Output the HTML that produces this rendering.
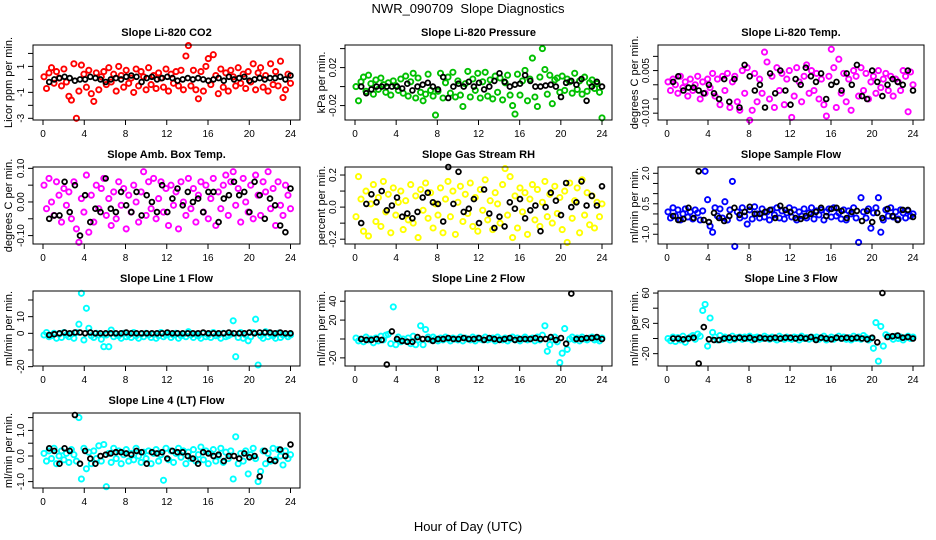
<!DOCTYPE html>
<html><head><meta charset="utf-8"><style>
body{margin:0;background:#fff;}
svg{display:block;font-family:"Liberation Sans",Arial,sans-serif;}
</style></head><body>
<svg id="chart" width="936" height="540" viewBox="0 0 936 540">
<rect x="0" y="0" width="936" height="540" fill="#fff"/>
<text x="468" y="13" font-size="13" text-anchor="middle">NWR_090709&#160; Slope Diagnostics</text>
<text x="468" y="531" font-size="13" text-anchor="middle">Hour of Day (UTC)</text>
</svg>
<script>
var xTicks = [0,4,8,12,16,20,24];
var co2Vals = [0.2,-0.7,0.5,0.9,-0.3,0.6,0.1,-0.5,0.8,-0.2,-1.3,-1.6,1.2,-3.0,-0.9,1.1,0.4,-0.6,0.7,-1.1,-1.7,0.5,-0.8,0.2,0.6,-0.4,0.9,-0.2,0.4,-0.9,1.0,0.3,-0.6,0.7,-0.3,0.1,-1.0,0.8,-0.5,0.6,0.2,-0.8,0.9,-0.4,0.3,-0.7,0.5,0.1,-0.6,0.8,-0.9,0.4,-0.3,0.6,-0.5,0.7,-0.8,1.8,2.6,-0.5,0.7,-0.8,-1.5,0.6,-0.9,1.0,1.6,-0.4,1.9,0.3,-1.1,0.8,-0.6,0.5,-0.9,0.7,0.2,-0.5,0.9,-0.3,0.4,-0.7,0.6,-0.2,1.2,-0.8,0.5,0.9,-0.6,0.3,-0.9,1.2,-0.4,0.6,-0.5,1.4,-1.4,-0.8,0.4,-0.3];
var co2Ref = [-0.2,0.0,0.1,0.2,0.1,-0.1,0.0,0.0,0.2,0.1,0.0,-0.2,0.0,0.1,0.0,0.2,0.3,0.2,-0.2,0.1,0.2,0.0,0.1,0.2,0.1,-0.1,0.0,0.1,0.0,0.1,0.0,-0.1,0.0,0.1,-0.1,0.2,0.0,0.1,0.2,-0.1,0.0,0.1,0.0,0.1,0.1,0.2,0.0,0.3];
var presVals = [0.0,-0.015,0.005,0.01,-0.005,0.012,0.003,-0.008,0.007,-0.003,0.009,0.002,-0.006,0.004,-0.009,0.006,0.001,-0.004,0.008,-0.007,0.011,-0.01,0.005,0.014,-0.012,0.009,-0.006,-0.015,-0.008,0.013,-0.004,-0.01,-0.03,-0.005,0.014,-0.012,0.004,0.01,-0.007,0.015,-0.011,0.006,-0.009,-0.021,0.003,0.016,-0.011,0.008,-0.004,0.014,-0.012,0.005,0.015,-0.01,0.007,-0.013,0.011,-0.006,0.009,-0.014,0.004,0.012,-0.009,-0.02,-0.029,0.013,-0.009,0.006,0.017,-0.015,0.008,0.03,-0.011,-0.021,0.01,0.04,0.018,-0.008,0.012,-0.018,0.007,0.009,-0.006,0.011,-0.004,0.008,0.005,-0.007,0.014,-0.003,0.006,-0.008,0.01,-0.005,0.004,0.007,-0.002,0.003,-0.006,-0.033];
var presRef = [0.0,-0.007,-0.003,0.0,0.0,0.0,0.0,0.0,-0.002,0.003,-0.004,0.0,0.002,0.004,0.0,-0.003,0.01,-0.012,0.0,0.003,0.0,0.005,0.0,0.004,-0.003,0.0,0.006,0.014,0.005,0.0,0.002,0.003,0.012,0.006,0.0,0.0,0.001,0.002,0.0,-0.011,0.004,0.006,0.002,0.008,-0.015,0.0,0.005,0.0];
var tempVals = [0.001,-0.002,0.002,0.0,-0.003,0.003,-0.001,0.001,-0.004,0.002,-0.002,0.0,0.003,-0.005,0.001,-0.003,0.002,-0.001,0.004,-0.004,0.002,-0.007,0.003,-0.002,0.004,-0.008,0.001,0.003,-0.006,-0.009,0.005,-0.003,0.006,-0.0125,-0.009,0.004,-0.006,0.002,-0.003,0.0115,0.008,-0.005,0.003,-0.008,0.006,-0.002,0.004,-0.007,0.002,0.005,-0.0115,-0.004,0.006,0.001,-0.006,0.003,0.007,-0.003,0.005,-0.002,0.004,-0.005,0.002,-0.007,-0.011,0.003,0.0125,0.006,-0.008,0.009,-0.003,0.004,-0.006,0.002,-0.009,0.005,0.003,-0.004,0.006,-0.002,0.004,-0.005,0.001,0.003,-0.003,0.005,-0.001,0.002,0.004,-0.002,0.003,-0.004,0.002,0.001,-0.002,0.005,0.003,-0.0095,0.0045,0.0];
var tempRef = [0.001,0.003,-0.002,-0.001,-0.001,-0.002,-0.003,0.0,-0.003,-0.005,0.002,-0.006,0.002,-0.008,0.007,0.003,-0.002,0.0,-0.008,0.004,-0.003,0.005,-0.002,-0.007,0.002,0.0,0.006,0.003,0.001,0.004,-0.005,0.0,0.001,-0.002,0.004,0.0,0.007,-0.004,-0.005,0.005,0.001,-0.004,0.0,0.002,0.001,0.0,0.005,-0.002];
var ambVals = [0.05,-0.02,0.07,0.0,-0.04,0.06,0.02,-0.06,0.04,-0.01,0.03,-0.05,0.06,-0.08,-0.12,0.01,-0.03,0.08,-0.09,0.02,-0.06,0.05,-0.02,0.04,0.07,-0.04,0.01,-0.07,0.03,-0.05,0.06,-0.01,0.04,-0.08,0.02,-0.03,0.05,0.0,-0.06,0.03,0.09,-0.04,0.06,-0.02,0.07,-0.05,0.01,0.06,-0.03,0.04,-0.07,0.05,-0.01,0.03,-0.08,0.06,0.0,-0.04,0.07,-0.02,0.04,-0.06,0.02,0.06,-0.03,0.05,-0.05,0.01,0.07,-0.07,0.03,-0.02,0.05,0.08,-0.04,0.06,0.09,-0.01,0.04,-0.06,0.07,0.0,-0.03,0.05,-0.05,0.08,0.02,-0.04,0.06,0.03,0.09,-0.02,0.04,-0.07,0.06,-0.01,-0.04,0.05,0.02,-0.02];
var ambRef = [-0.05,-0.04,-0.04,0.06,-0.03,0.05,-0.1,0.02,-0.06,-0.02,-0.03,0.07,-0.02,-0.03,0.03,-0.01,-0.03,0.03,-0.04,0.02,0.0,-0.03,0.05,-0.03,0.01,0.04,-0.01,0.03,0.0,0.01,-0.03,0.03,0.03,-0.06,0.01,0.02,0.06,0.02,0.03,-0.03,0.06,0.02,-0.05,0.01,-0.01,-0.07,-0.09,0.04];
var rhVals = [-0.06,0.19,0.05,-0.15,0.1,-0.18,0.02,0.14,-0.09,0.06,-0.12,0.16,-0.03,0.08,-0.16,0.12,-0.05,0.03,0.1,-0.14,0.04,-0.08,0.14,-0.1,0.07,-0.19,0.11,-0.02,0.15,-0.07,0.09,-0.13,0.02,-0.05,0.12,-0.16,0.05,0.16,-0.06,0.1,-0.17,0.03,0.13,-0.09,0.08,-0.04,0.15,-0.12,0.06,-0.15,0.11,-0.02,0.17,-0.08,0.04,-0.14,0.09,0.02,-0.1,0.14,0.24,-0.05,0.19,-0.19,0.07,-0.13,0.12,-0.03,0.09,-0.17,0.05,0.14,-0.08,0.11,-0.12,0.03,0.16,-0.06,0.08,-0.1,0.13,-0.04,0.06,-0.14,0.1,-0.22,0.15,-0.07,0.04,0.12,-0.16,0.17,-0.05,0.09,-0.11,0.07,-0.13,0.03,-0.06,0.02];
var rhRef = [-0.1,0.02,0.08,0.03,0.1,-0.02,0.01,0.06,-0.06,-0.04,-0.07,-0.03,0.06,0.09,0.03,0.02,-0.09,0.25,0.02,0.22,-0.03,-0.01,0.05,-0.1,0.11,-0.04,-0.13,-0.06,-0.12,0.03,-0.01,0.05,-0.07,-0.02,0.01,-0.15,0.0,0.09,0.04,-0.05,0.15,0.0,0.03,0.16,0.01,0.07,0.01,0.13];
var flowVals = [0.1,-0.2,0.3,-0.1,0.2,-0.3,0.0,0.25,-0.15,0.1,-0.25,0.2,0.05,-0.3,0.15,2.1,0.7,-0.6,-0.9,0.3,-0.1,0.25,-0.2,0.6,-0.3,0.2,1.6,-1.6,0.1,-0.2,0.3,-0.1,-0.5,0.2,-0.25,0.35,0.0,-0.2,0.25,-0.15,0.1,-0.3,0.2,-0.05,0.3,-0.2,0.15,-0.25,0.05,0.3,-0.15,0.2,-0.3,0.1,-0.1,0.25,-0.2,0.05,0.3,-0.25,0.15,-0.05,0.2,-0.3,0.1,0.25,-0.15,0.3,-0.1,0.05,-0.25,0.2,-0.3,0.15,0.0,0.3,-0.2,-1.4,0.8,0.1,-0.2,0.25,-0.7,0.05,0.3,0.8,-0.9,-0.3,0.2,-0.1,0.3,-0.15,0.1,-0.25,0.2,0.05,-0.2,0.15,-0.1,0.0];
var flowRef = [-0.1,-0.3,-0.25,0.3,-0.2,2.1,-0.3,-0.4,0.05,-0.2,-0.35,-0.1,0.3,-0.05,0.1,0.35,0.0,0.0,0.1,0.2,-0.2,0.4,0.2,0.1,-0.2,-0.25,-0.1,0.0,0.1,0.3,-0.1,0.25,0.3,0.15,-0.2,0.1,0.15,-0.35,0.15,-0.4,0.05,-0.2,0.25,-0.1,-0.3,0.2,0.2,-0.15];
var line1Vals = [-1,0.5,-2,-1.5,0,-3,-0.5,-2.5,0.5,-1,-2,-0.5,-3,0.5,5.5,24,-4,15,3,-1.5,-2.5,0,-1,-3.5,-8,-1,-8,2,-2,-0.5,-1.5,-3,0,-2,-1,-2.5,0.5,-1.5,-3,-0.5,-2,0,-1,-2.5,-0.5,-3,-1.5,0.5,-2,-1,-0.5,-2.5,-1,0,-3,-1.5,-0.5,-2,1,-1,-2.5,-0.5,-1.5,-3,0,-2,-1,-2.5,0.5,-1.5,-1,-3,0,-2,-1.5,-0.5,7.5,-14,-2.5,0.5,-3,-1,-4.5,-2,0.5,8.5,-19,-1.5,-3,1,-2,-0.5,-1.5,-3,0,-2.5,-1,-0.5,-2,-1];
var line1Ref = [-1,-0.5,0,0.5,0,0.5,0.5,0,0.5,0,0,0,0,0,0,0.5,0,0,0,0,0,0,0,0.5,0,0,0,0,0,0,0.5,0,0,0,0,0.5,0,0,0,0.5,0,0.5,0.5,0.5,0,0.5,0,0];
var line2Vals = [1,-2,0,-3,2,-1,0,-4,1,-2,3,-1,4,5,-5,34,-6,2,-3,0,-2,1,-5,3,-6,-1,14,-6,10,2,-1,2,0,-2,1,-1,2,0,-2,1,0,-1,2,-2,1,0,-1,2,-2,1,0,-1,2,-1,0,1,-2,2,0,-1,1,-2,0,2,-1,1,-2,0,2,-1,0,1,-2,2,-1,4,14,-13,-6,-1,2,-3,-25,-15,11,-11,0,2,-1,1,-2,2,0,-1,1,2,-1,0,-2,1];
var line2Ref = [0,-1,-1,0,-1,-27,8,0,-2,-3,-3,2,0,0,-2,0,0,1,0,0,1,0,0,1,-1,1,0,-1,0,1,-1,0,0,0,1,0,0,2,-1,1,-5,48,0,0,1,1,2,0];
var line3Vals = [0,-3,2,-4,1,-2,3,-5,0,2,4,-1,6,3,37,45,-10,27,8,2,-2,4,-1,2,0,-2,3,-1,1,2,-1,2,0,3,-2,1,2,-1,0,3,1,-1,2,0,-2,3,1,-1,2,0,-1,2,1,-2,3,0,1,-1,2,0,2,-1,1,3,-2,0,2,-1,1,3,0,2,-1,1,-2,3,0,2,-1,4,1,-2,0,-13,21,-30,16,-10,5,3,2,-1,3,0,2,-2,1,3,0,2];
var line3Ref = [0,0,-1,0,1,-33,15,-1,-2,-2,0,1,0,1,0,1,-1,1,0,0,1,0,1,1,0,1,0,2,-2,1,0,-1,1,0,1,0,1,0,-1,1,-5,60,2,3,4,1,2,0];
var line4Vals = [0.1,-0.2,0.2,-0.1,0.3,-0.3,0.0,0.2,-0.15,0.1,-0.25,0.25,0.05,-0.2,1.5,-0.9,0.3,-0.5,0.15,-0.3,0.2,-0.1,0.4,-0.2,0.45,-1.2,0.1,-0.25,0.3,-0.1,0.2,-0.3,0.05,0.25,-0.2,0.1,-0.15,0.3,0.0,-0.25,0.15,-0.1,0.2,-0.3,0.1,0.25,-0.2,0.05,-0.95,0.3,-0.15,0.2,-0.25,0.1,0.3,-0.05,0.2,-0.3,0.15,-0.1,0.25,-0.2,0.05,0.35,-0.15,0.2,-0.3,0.1,0.25,-0.2,0.0,0.3,-0.25,0.15,-0.1,0.2,-0.9,0.75,-0.3,0.1,-0.2,0.2,-0.7,0.05,0.3,-0.1,-1.0,-0.6,0.2,-0.3,0.1,-0.2,0.3,-0.15,0.25,0.0,-0.35,0.2,-0.1,0.05];
var line4Ref = [0.3,0.2,-0.3,0.3,0.2,1.6,-0.3,0.2,-0.1,-0.3,0.0,0.05,0.1,0.15,0.15,0.1,0.05,0.2,0.15,-0.3,0.15,0.1,0.15,-0.1,0.2,0.15,0.15,0.0,-0.1,-0.3,0.15,0.1,0.0,0.05,-0.2,0.0,0.0,-0.1,0.1,-0.05,0.0,-0.8,0.2,-0.15,-0.2,0.25,0.0,0.45];

var co2Ticks=[-3,-2,-1,0,1,2], co2Labels=["-3","","-1","","1",""];
var presTicks=[-0.02,0,0.02,0.04], presLabels=["-0.02","","0.02",""];
var tempTicks=[-0.01,-0.005,0,0.005,0.01], tempLabels=["-0.010","","","0.005",""];
var ambTicks=[-0.1,-0.05,0,0.05,0.1], ambLabels=["-0.10","","0.00","","0.10"];
var rhTicks=[-0.2,-0.1,0,0.1,0.2], rhLabels=["-0.2","","0.0","","0.2"];
var flowTicks=[-1,-0.5,0,0.5,1,1.5,2], flowLabels=["-1.0","","","0.5","","","2.0"];
var line1Ticks=[-20,-10,0,10,20], line1Labels=["-20","","0","10",""];
var line2Ticks=[-20,0,20,40], line2Labels=["-20","","20","40"];
var line3Ticks=[-20,0,20,40,60], line3Labels=["-20","","20","","60"];
var line4Ticks=[-1,-0.5,0,0.5,1,1.5], line4Labels=["-1.0","","0.0","","1.0",""];

var cols=[{l:33,r:300,x0:43,x1:290.5,yl:8},{l:345,r:612,x0:355,x1:602,yl:321},{l:658,r:924,x0:667,x1:913,yl:634}];
var rows=[{t:45,b:120},{t:167,b:244},{t:291,b:366},{t:413,b:488}];
var panels=[
 {name:"co2",title:"Slope Li-820 CO2",ylab:"Licor ppm per min.",c:0,r:0,ymin:-3.13,ymax:2.65,vals:co2Vals,ref:co2Ref,color:"#ff0000",ticks:co2Ticks,labels:co2Labels},
 {name:"pressure",title:"Slope Li-820 Pressure",ylab:"kPa per min.",c:1,r:0,ymin:-0.0352,ymax:0.0438,vals:presVals,ref:presRef,color:"#00c000",ticks:presTicks,labels:presLabels},
 {name:"temp",title:"Slope Li-820 Temp.",ylab:"degrees C per min.",c:2,r:0,ymin:-0.0124,ymax:0.014,vals:tempVals,ref:tempRef,color:"#ff00ff",ticks:tempTicks,labels:tempLabels},
 {name:"amb-box-temp",title:"Slope Amb. Box Temp.",ylab:"degrees C per min.",c:0,r:1,ymin:-0.125,ymax:0.104,vals:ambVals,ref:ambRef,color:"#ff00ff",ticks:ambTicks,labels:ambLabels},
 {name:"gas-rh",title:"Slope Gas Stream RH",ylab:"percent per min.",c:1,r:1,ymin:-0.23,ymax:0.25,vals:rhVals,ref:rhRef,color:"#ffff00",ticks:rhTicks,labels:rhLabels},
 {name:"sample-flow",title:"Slope Sample Flow",ylab:"ml/min per min.",c:2,r:1,ymin:-1.48,ymax:2.31,vals:flowVals,ref:flowRef,color:"#0000ff",ticks:flowTicks,labels:flowLabels},
 {name:"line1-flow",title:"Slope Line 1 Flow",ylab:"ml/min per min.",c:0,r:2,ymin:-19.6,ymax:25.4,vals:line1Vals,ref:line1Ref,color:"#00ffff",ticks:line1Ticks,labels:line1Labels},
 {name:"line2-flow",title:"Slope Line 2 Flow",ylab:"ml/min per min.",c:1,r:2,ymin:-28.6,ymax:50.8,vals:line2Vals,ref:line2Ref,color:"#00ffff",ticks:line2Ticks,labels:line2Labels},
 {name:"line3-flow",title:"Slope Line 3 Flow",ylab:"ml/min per min.",c:2,r:2,ymin:-36.3,ymax:62.7,vals:line3Vals,ref:line3Ref,color:"#00ffff",ticks:line3Ticks,labels:line3Labels},
 {name:"line4-flow",title:"Slope Line 4 (LT) Flow",ylab:"ml/min per min.",c:0,r:3,ymin:-1.25,ymax:1.68,vals:line4Vals,ref:line4Ref,color:"#00ffff",ticks:line4Ticks,labels:line4Labels}
];
var NS="http://www.w3.org/2000/svg";
var svg=document.getElementById("chart");
function mk(tag,attrs,parent){var e=document.createElementNS(NS,tag);for(var k in attrs)e.setAttribute(k,attrs[k]);parent.appendChild(e);return e;}
panels.forEach(function(p){
 var C=cols[p.c],R=rows[p.r];
 var g=mk("g",{},svg);
 
 
 function xs(h){return C.x0+(h/24)*(C.x1-C.x0);}
 function ys(v){return R.b-(v-p.ymin)/(p.ymax-p.ymin)*(R.b-R.t);}
 var t=mk("text",{x:(C.l+C.r)/2,y:R.t-9,"font-size":"11","font-weight":"bold","text-anchor":"middle"},g);
 t.textContent=p.title;
 
 
 var cy=(R.t+R.b)/2;
 var yl=mk("text",{x:C.yl+4,y:cy,"font-size":"11","text-anchor":"middle",transform:"rotate(-90 "+(C.yl+4)+" "+cy+")"},g);
 yl.textContent=p.ylab;
 
 
 var pts=mk("g",{fill:"none",stroke:p.color,"stroke-width":"1.9"},g);
 
 
 var n=p.vals.length;
 p.vals.forEach(function(v,i){
  var h=0.1+i*23.9/(n-1);
  var c=mk("circle",{cx:xs(h).toFixed(1),cy:ys(v).toFixed(1),r:"2.6"},pts);
  
  
 });
 var rp=mk("g",{fill:"none",stroke:"#000","stroke-width":"1.8"},g);
 
 
 var m=p.ref.length;
 p.ref.forEach(function(v,i){
  var h=0.6+i*23.4/(m-1);
  var c=mk("circle",{cx:xs(h).toFixed(1),cy:ys(v).toFixed(1),r:"2.4"},rp);
  
  
 });
 var box=mk("rect",{x:C.l,y:R.t,width:C.r-C.l,height:R.b-R.t,fill:"none",stroke:"#000","stroke-width":"1"},g);
 
 
 var xa=mk("g",{},g);
 
 
 xTicks.forEach(function(h){
  var x=xs(h);
  mk("line",{x1:x,x2:x,y1:R.b,y2:R.b+5,stroke:"#000"},xa);
  var tl=mk("text",{x:x,y:R.b+17,"font-size":"10","text-anchor":"middle"},xa);
  tl.textContent=String(h);
  
  
 });
 var ya=mk("g",{},g);
 
 
 p.ticks.forEach(function(v,i){
  var y=ys(v);
  mk("line",{x1:C.l-5,x2:C.l,y1:y,y2:y,stroke:"#000"},ya);
  if(p.labels[i]){
   var lx=C.l-9;
   var tl=mk("text",{x:lx,y:y,"font-size":"10","text-anchor":"middle",transform:"rotate(-90 "+lx+" "+y+")"},ya);
   tl.textContent=p.labels[i];
   
   
  }
 });
});
</script>
</body></html>
